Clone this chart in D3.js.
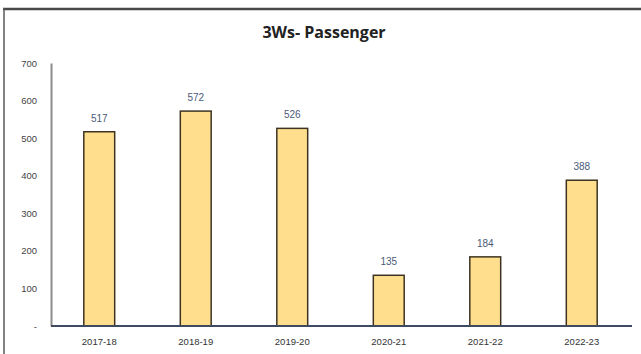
<!DOCTYPE html>
<html><head><meta charset="utf-8">
<script src="https://cdn.jsdelivr.net/npm/d3@7"></script>
<style>html,body{margin:0;padding:0;background:#fff;}svg{display:block;}</style>
</head><body>
<svg id="c" width="641" height="354"></svg>
<script>
const categories = ["2017-18","2018-19","2019-20","2020-21","2021-22","2022-23"];
const values = [517, 572, 526, 135, 184, 388];
const yTicks = [0,100,200,300,400,500,600,700];
const yTickLabels = ["-","100","200","300","400","500","600","700"];
const title = "3Ws- Passenger";

const svg = d3.select("#c");
// outer frame (top + left)
svg.append("line").attr("x1",3).attr("x2",641).attr("y1",9).attr("y2",9).attr("stroke","#4a4a4a").attr("stroke-width",2.5);
svg.append("line").attr("x1",4).attr("x2",4).attr("y1",8).attr("y2",354).attr("stroke","#5a5a5a").attr("stroke-width",1.5);

const x = d3.scaleBand().domain(categories).range([51,630]).paddingInner(0.68).paddingOuter(0.34);
const y = d3.scaleLinear().domain([0,700]).range([326,63]);

svg.append("text").attr("x",324).attr("y",38).attr("text-anchor","middle")
  .attr("font-family","Open Sans, sans-serif").attr("font-weight","bold").attr("font-size",16).attr("fill","#222").text(title);

// y axis
const yAxis = d3.axisLeft(y).tickValues(yTicks).tickFormat((d,i)=>yTickLabels[i]).tickSize(0).tickPadding(14);
const gy = svg.append("g").attr("transform","translate(51,0)").call(yAxis);
gy.select(".domain").attr("stroke","#8c8c8c").attr("stroke-width",2);
gy.selectAll("text").attr("font-family","Liberation Sans, sans-serif").attr("font-size",9.5).attr("fill","#444");

// bars
svg.selectAll("rect.bar").data(values).join("rect").attr("class","bar")
  .attr("x",(d,i)=>x(categories[i])).attr("width",x.bandwidth())
  .attr("y",d=>y(d)).attr("height",d=>y(0)-y(d))
  .attr("fill","#FFDF8E").attr("stroke","#3d3320").attr("stroke-width",1.5);

// labels
svg.selectAll("text.lbl").data(values).join("text").attr("class","lbl")
  .attr("x",(d,i)=>x(categories[i])+x.bandwidth()/2).attr("y",d=>y(d)-10)
  .attr("text-anchor","middle").attr("font-family","Liberation Sans, sans-serif").attr("font-size",10)
  .attr("fill","#4a5a78").text(d=>d);

// x axis
const xAxis = d3.axisBottom(x).tickSize(0).tickPadding(12);
const gx = svg.append("g").attr("transform","translate(0,326)").call(xAxis);
gx.select(".domain").attr("d","M51,0H632").attr("stroke","#3d4a60").attr("stroke-width",1.8);
gx.selectAll("text").attr("font-family","Liberation Sans, sans-serif").attr("font-size",9.5).attr("fill","#333");
</script>
</body></html>
